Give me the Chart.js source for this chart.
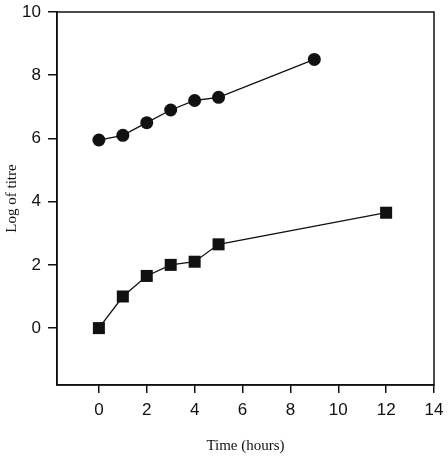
<!DOCTYPE html>
<html>
<head>
<meta charset="utf-8">
<script src="https://cdn.jsdelivr.net/npm/chart.js@4"></script>
<style>
  html, body { margin: 0; padding: 0; background: #fff; }
  #wrap { width: 448px; height: 458px; }
</style>
</head>
<body>
<div id="wrap"><canvas id="myChart" width="448" height="458"></canvas></div>
<script>
// data
const circleHours = [0, 1, 2, 3, 4, 5, 9];
const circleTitre = [5.95, 6.1, 6.5, 6.9, 7.2, 7.3, 8.5];

const squareHours = [0, 1, 2, 3, 4, 5, 12];
const squareTitre = [0, 1.0, 1.65, 2.0, 2.1, 2.65, 3.65];

const xTicks = [0, 2, 4, 6, 8, 10, 12, 14];
const yTicks = [0, 2, 4, 6, 8, 10];

const INK = '#111';

function toPoints(xs, ys) {
  let pts = [];
  for (var i = 0; i < xs.length; i++) {
    pts.push({ x: xs[i], y: ys[i] });
  }
  return pts;
}

// box round the plot area (top and right sides too)
const frame = {
  id: 'frame',
  afterDraw(chart) {
    const a = chart.chartArea;
    const ctx = chart.ctx;
    ctx.save();
    ctx.strokeStyle = INK;
    ctx.lineWidth = 1.5;
    ctx.strokeRect(a.left, a.top, a.right - a.left, a.bottom - a.top);
    ctx.restore();
  }
};

const tickFont = { family: '"Liberation Sans", Arial, sans-serif', size: 17 };
const titleFont = { family: '"Liberation Serif", "Times New Roman", serif', size: 15 };

let ctx = document.getElementById('myChart').getContext('2d');
let myChart = new Chart(ctx, {
  type: 'scatter',
  data: {
    datasets: [{
      label: 'circles',
      data: toPoints(circleHours, circleTitre),
      showLine: true,
      borderColor: INK,
      borderWidth: 1.3,
      backgroundColor: INK,
      pointStyle: 'circle',
      pointRadius: 6.5,
      pointBorderWidth: 0
    }, {
      label: 'squares',
      data: toPoints(squareHours, squareTitre),
      showLine: true,
      borderColor: INK,
      borderWidth: 1.3,
      backgroundColor: INK,
      pointStyle: 'rect',
      pointRadius: 8.5,
      pointBorderWidth: 0
    }]
  },
  options: {
    responsive: false,
    animation: false,
    layout: { padding: { top: 12, right: 14, left: 0, bottom: 0 } },
    plugins: {
      legend: { display: false },
      tooltip: { enabled: false }
    },
    scales: {
      x: {
        type: 'linear',
        min: -1.75,
        max: 14,
        afterBuildTicks: function (scale) {
          scale.ticks = xTicks.map(v => ({ value: v }));
        },
        afterFit: function (scale) {
          scale.height = 73;
          scale.paddingLeft = 0;
          scale.paddingRight = 0;
        },
        grid: { display: true, drawOnChartArea: false, tickLength: 8, color: INK, lineWidth: 1.5 },
        border: { display: true, color: INK, width: 1.5 },
        ticks: { color: INK, font: tickFont, padding: 7, maxRotation: 0 },
        title: { display: true, text: 'Time (hours)', color: INK, font: titleFont, padding: { top: 0, bottom: 3 } }
      },
      y: {
        type: 'linear',
        min: -1.8,
        max: 10,
        afterBuildTicks: function (scale) {
          scale.ticks = yTicks.map(v => ({ value: v }));
        },
        afterFit: function (scale) {
          scale.width = 57;
          scale.paddingTop = 0;
          scale.paddingBottom = 0;
        },
        grid: { display: true, drawOnChartArea: false, tickLength: 9, color: INK, lineWidth: 1.5 },
        border: { display: true, color: INK, width: 1.5 },
        ticks: { color: INK, font: tickFont, padding: 7 },
        title: { display: true, text: 'Log of titre', color: INK, font: titleFont, padding: { top: 3, bottom: 0 } }
      }
    }
  },
  plugins: [frame]
});
</script>
</body>
</html>
